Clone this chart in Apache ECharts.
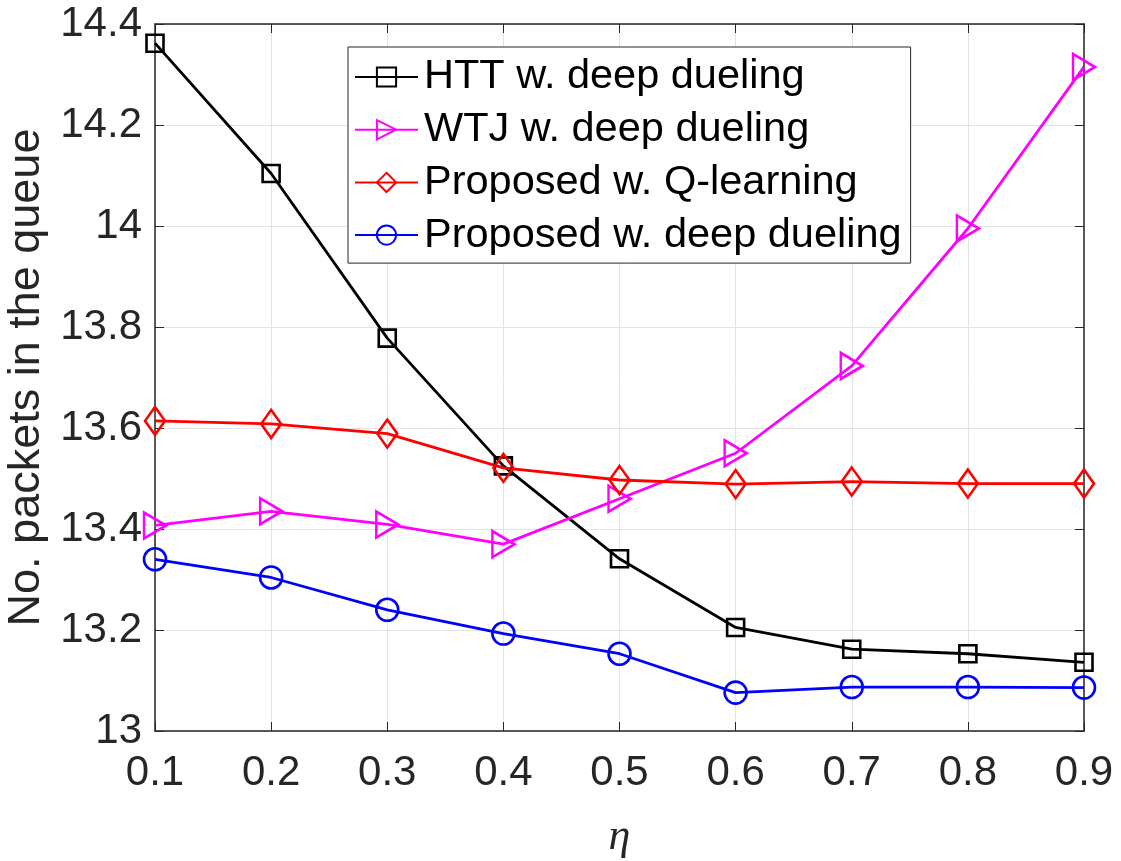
<!DOCTYPE html>
<html>
<head>
<meta charset="utf-8">
<script src="https://cdn.jsdelivr.net/npm/echarts@6/dist/echarts.min.js"></script>
<style>
  html, body { margin: 0; padding: 0; background: #fff; }
  #chart { width: 1121px; height: 861px; }
</style>
</head>
<body>
<div id="chart"></div>
<script>
// eta values on the x axis
const etaLabels = ['0.1', '0.2', '0.3', '0.4', '0.5', '0.6', '0.7', '0.8', '0.9']

// average number of packets in the queue
const httDeep = [14.362, 14.104, 13.778, 13.525, 13.341, 13.205, 13.162, 13.153, 13.136]
const wtjDeep = [13.407, 13.435, 13.409, 13.370, 13.460, 13.550, 13.723, 13.995, 14.315]
const propQ = [13.614, 13.608, 13.589, 13.521, 13.497, 13.489, 13.494, 13.490, 13.490]
const propDeep = [13.340, 13.304, 13.240, 13.193, 13.153, 13.076, 13.087, 13.087, 13.086]

const seriesNames = [
  'HTT w. deep dueling',
  'WTJ w. deep dueling',
  'Proposed w. Q-learning',
  'Proposed w. deep dueling'
]

const axisColor = '#262626'
const gridColor = '#e3e3e3'
const font = '"Liberation Sans", Arial, Helvetica, sans-serif'

function lineSeries (name, data, color, symbol, size, rotate) {
  return {
    name: name,
    type: 'line',
    data: data,
    symbol: symbol,
    symbolSize: size,
    symbolRotate: rotate || 0,
    showAllSymbol: true,
    animation: false,
    lineStyle: { color: color, width: 2.8 },
    itemStyle: { color: 'none', borderColor: color, borderWidth: 2.6 },
    emphasis: { disabled: true }
  }
}

const chart = echarts.init(document.getElementById('chart'))
chart.setOption({
  backgroundColor: '#fff',
  animation: false,
  grid: {
    left: 155,
    top: 24,
    right: 37,
    bottom: 130,
    containLabel: false,
    outerBoundsMode: 'none'
  },
  legend: {
    orient: 'vertical',
    left: 348,
    top: 47,
    padding: [8, 9, 6, 6],
    itemGap: 8.7,
    itemWidth: 63,
    itemHeight: 24,
    backgroundColor: '#fff',
    borderColor: axisColor,
    borderWidth: 1,
    data: seriesNames,
    textStyle: {
      fontFamily: font,
      fontSize: 41.5,
      lineHeight: 44,
      color: '#000',
      padding: [0, 0, 0, 1]
    }
  },
  xAxis: [
    {
      type: 'category',
      data: etaLabels,
      boundaryGap: false,
      name: 'η',
      nameLocation: 'middle',
      nameGap: 84,
      nameTextStyle: {
        fontFamily: '"Liberation Serif", "DejaVu Serif", serif',
        fontStyle: 'italic',
        fontSize: 44,
        color: axisColor
      },
      axisLine: { lineStyle: { color: axisColor, width: 1.5 } },
      axisTick: { inside: true, length: 9, lineStyle: { color: axisColor } },
      axisLabel: {
        fontFamily: font,
        fontSize: 42,
        color: axisColor,
        margin: 21
      },
      splitLine: { show: true, lineStyle: { color: gridColor, width: 1 } }
    },
    {
      type: 'category',
      data: etaLabels,
      boundaryGap: false,
      position: 'top',
      axisLine: { lineStyle: { color: axisColor, width: 1.5 } },
      axisTick: { inside: true, length: 9, lineStyle: { color: axisColor } },
      axisLabel: { show: false },
      splitLine: { show: false }
    }
  ],
  yAxis: [
    {
      type: 'value',
      min: 13,
      max: 14.4,
      interval: 0.2,
      name: 'No. packets in the queue',
      nameLocation: 'middle',
      nameGap: 106,
      nameTextStyle: {
        fontFamily: font,
        fontSize: 45,
        color: axisColor
      },
      axisLine: { show: true, lineStyle: { color: axisColor, width: 1.5 } },
      axisTick: { show: true, inside: true, length: 9, lineStyle: { color: axisColor } },
      axisLabel: {
        fontFamily: font,
        fontSize: 42,
        color: axisColor,
        margin: 13,
        formatter: (v) => String(Math.round(v * 10) / 10)
      },
      splitLine: { show: true, lineStyle: { color: gridColor, width: 1 } }
    },
    {
      type: 'value',
      min: 13,
      max: 14.4,
      interval: 0.2,
      position: 'right',
      axisLine: { show: true, lineStyle: { color: axisColor, width: 1.5 } },
      axisTick: { show: true, inside: true, length: 9, lineStyle: { color: axisColor } },
      axisLabel: { show: false },
      splitLine: { show: false }
    }
  ],
  series: [
    lineSeries(seriesNames[0], httDeep, '#000000', 'rect', 17),
    lineSeries(seriesNames[1], wtjDeep, '#ff00ff', 'triangle', [26, 22], -90),
    lineSeries(seriesNames[2], propQ, '#ff0000', 'diamond', [20, 28]),
    lineSeries(seriesNames[3], propDeep, '#0000ff', 'circle', 22)
  ]
})
</script>
</body>
</html>
